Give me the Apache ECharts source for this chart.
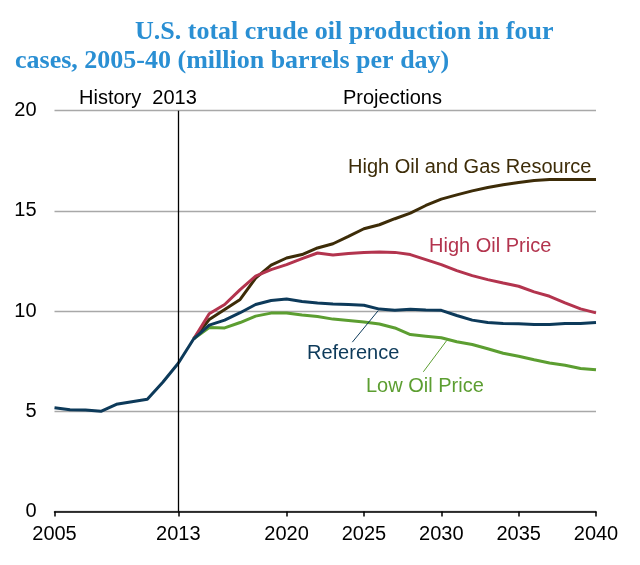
<!DOCTYPE html>
<html>
<head>
<meta charset="utf-8">
<script src="https://cdn.jsdelivr.net/npm/echarts@6/dist/echarts.min.js"></script>
<style>html,body{margin:0;padding:0;background:#fff}#c{width:640px;height:565px}</style>
</head>
<body>
<div id="c"></div>
<script>
var years = [];
for (var y = 2005; y <= 2040; y++) years.push(y);

// History 2005-2014 shared by all cases
var historical = [5.18, 5.08, 5.06, 5.00, 5.35, 5.48, 5.60, 6.45, 7.40, 8.62];

var reference = [9.30, 9.55, 9.92, 10.33, 10.53, 10.60, 10.48, 10.41, 10.36, 10.33, 10.29,
  10.10, 10.04, 10.09, 10.05, 10.04, 9.78, 9.55, 9.43, 9.38, 9.37, 9.33, 9.33, 9.38, 9.38, 9.43];
var highOilPrice = [9.87, 10.33, 11.07, 11.74, 12.07, 12.32, 12.62, 12.90, 12.80, 12.88, 12.93,
  12.95, 12.93, 12.82, 12.57, 12.32, 12.02, 11.77, 11.57, 11.40, 11.24, 10.96, 10.74, 10.41, 10.11, 9.91];
var highResource = [9.58, 10.08, 10.58, 11.65, 12.29, 12.65, 12.82, 13.15, 13.36, 13.73, 14.11,
  14.31, 14.61, 14.89, 15.27, 15.59, 15.80, 16.00, 16.17, 16.30, 16.42, 16.52, 16.57, 16.57, 16.57, 16.57];
var lowOilPrice = [9.18, 9.16, 9.43, 9.75, 9.90, 9.90, 9.80, 9.73, 9.60, 9.53, 9.46,
  9.36, 9.16, 8.83, 8.75, 8.67, 8.47, 8.33, 8.12, 7.90, 7.75, 7.57, 7.41, 7.30, 7.14, 7.07];

var xTicks = [2005, 2013, 2020, 2025, 2030, 2035, 2040];

var C_BROWN = '#3d2c08', C_RED = '#b3344e', C_BLUE = '#0d3a5a', C_GREEN = '#5c9e31';
var SANS = 'Liberation Sans, Arial, sans-serif';
var SERIF = 'Liberation Serif, Times New Roman, serif';

function full(proj) {
  return years.map(function (yr, i) {
    if (i < historical.length - 1) return [yr, null];
    if (i === historical.length - 1) return [yr, historical[i]];
    return [yr, proj[i - historical.length]];
  });
}
function refFull() {
  var all = historical.concat(reference);
  return years.map(function (yr, i) { return [yr, all[i]]; });
}

var chart = echarts.init(document.getElementById('c'));
var lineBase = { type: 'line', symbol: 'none', smooth: false, connectNulls: false, silent: true, animation: false };

chart.setOption({
  animation: false,
  grid: { left: 54.5, right: 44, top: 110.7, bottom: 53.5, containLabel: false },
  xAxis: {
    type: 'value', min: 2005, max: 2040,
    axisLine: { show: true, lineStyle: { color: '#000', width: 1.5 } },
    axisTick: { show: true, customValues: xTicks, length: 5, lineStyle: { color: '#000', width: 1.5 } },
    axisLabel: { customValues: xTicks, color: '#000', fontSize: 20, fontFamily: SANS, margin: 13,
      formatter: function (v) { return String(v); } },
    splitLine: { show: false }
  },
  yAxis: {
    type: 'value', min: 0, max: 20, interval: 5,
    axisLine: { show: false }, axisTick: { show: false },
    axisLabel: { color: '#000', fontSize: 20, fontFamily: SANS, margin: 18 },
    splitLine: { show: true, lineStyle: { color: '#a8a8a8', width: 1.4 } }
  },
  series: [
    Object.assign({}, lineBase, { name: 'High Oil and Gas Resource', data: full(highResource), lineStyle: { color: C_BROWN, width: 3 } }),
    Object.assign({}, lineBase, { name: 'High Oil Price', data: full(highOilPrice), lineStyle: { color: C_RED, width: 3 } }),
    Object.assign({}, lineBase, { name: 'Low Oil Price', data: full(lowOilPrice), lineStyle: { color: C_GREEN, width: 3 },
      markLine: { silent: true, symbol: 'none', label: { show: false },
        lineStyle: { color: C_GREEN, width: 1, type: 'solid' },
        data: [[{ coord: [2028.84, 6.97] }, { coord: [2030.36, 8.54] }]] } }),
    Object.assign({}, lineBase, { name: 'Reference', data: refFull(), lineStyle: { color: C_BLUE, width: 3 },
      markLine: { silent: true, symbol: 'none', label: { show: false },
        data: [
          { xAxis: 2013, lineStyle: { color: '#000', width: 1.3, type: 'solid' } },
          [{ coord: [2024.25, 8.45], lineStyle: { color: C_BLUE, width: 1, type: 'solid' } }, { coord: [2025.93, 10.03] }]
        ] } })
  ],
  graphic: [
    { type: 'text', left: 135, top: 19, style: { text: 'U.S. total crude oil production in four', font: 'bold 26px ' + SERIF, fill: '#2a8fd3' } },
    { type: 'text', left: 15, top: 48, style: { text: 'cases, 2005-40 (million barrels per day)', font: 'bold 26px ' + SERIF, fill: '#2a8fd3' } },
    { type: 'text', left: 79, top: 88, style: { text: 'History  2013', font: '20px ' + SANS, fill: '#000' } },
    { type: 'text', left: 343, top: 88, style: { text: 'Projections', font: '20px ' + SANS, fill: '#000' } },
    { type: 'text', left: 348, top: 157, style: { text: 'High Oil and Gas Resource', font: '20px ' + SANS, fill: C_BROWN } },
    { type: 'text', left: 429, top: 236, style: { text: 'High Oil Price', font: '20px ' + SANS, fill: C_RED } },
    { type: 'text', left: 307, top: 343, style: { text: 'Reference', font: '20px ' + SANS, fill: C_BLUE } },
    { type: 'text', left: 366, top: 376, style: { text: 'Low Oil Price', font: '20px ' + SANS, fill: C_GREEN } }
  ]
});
</script>
</body>
</html>
